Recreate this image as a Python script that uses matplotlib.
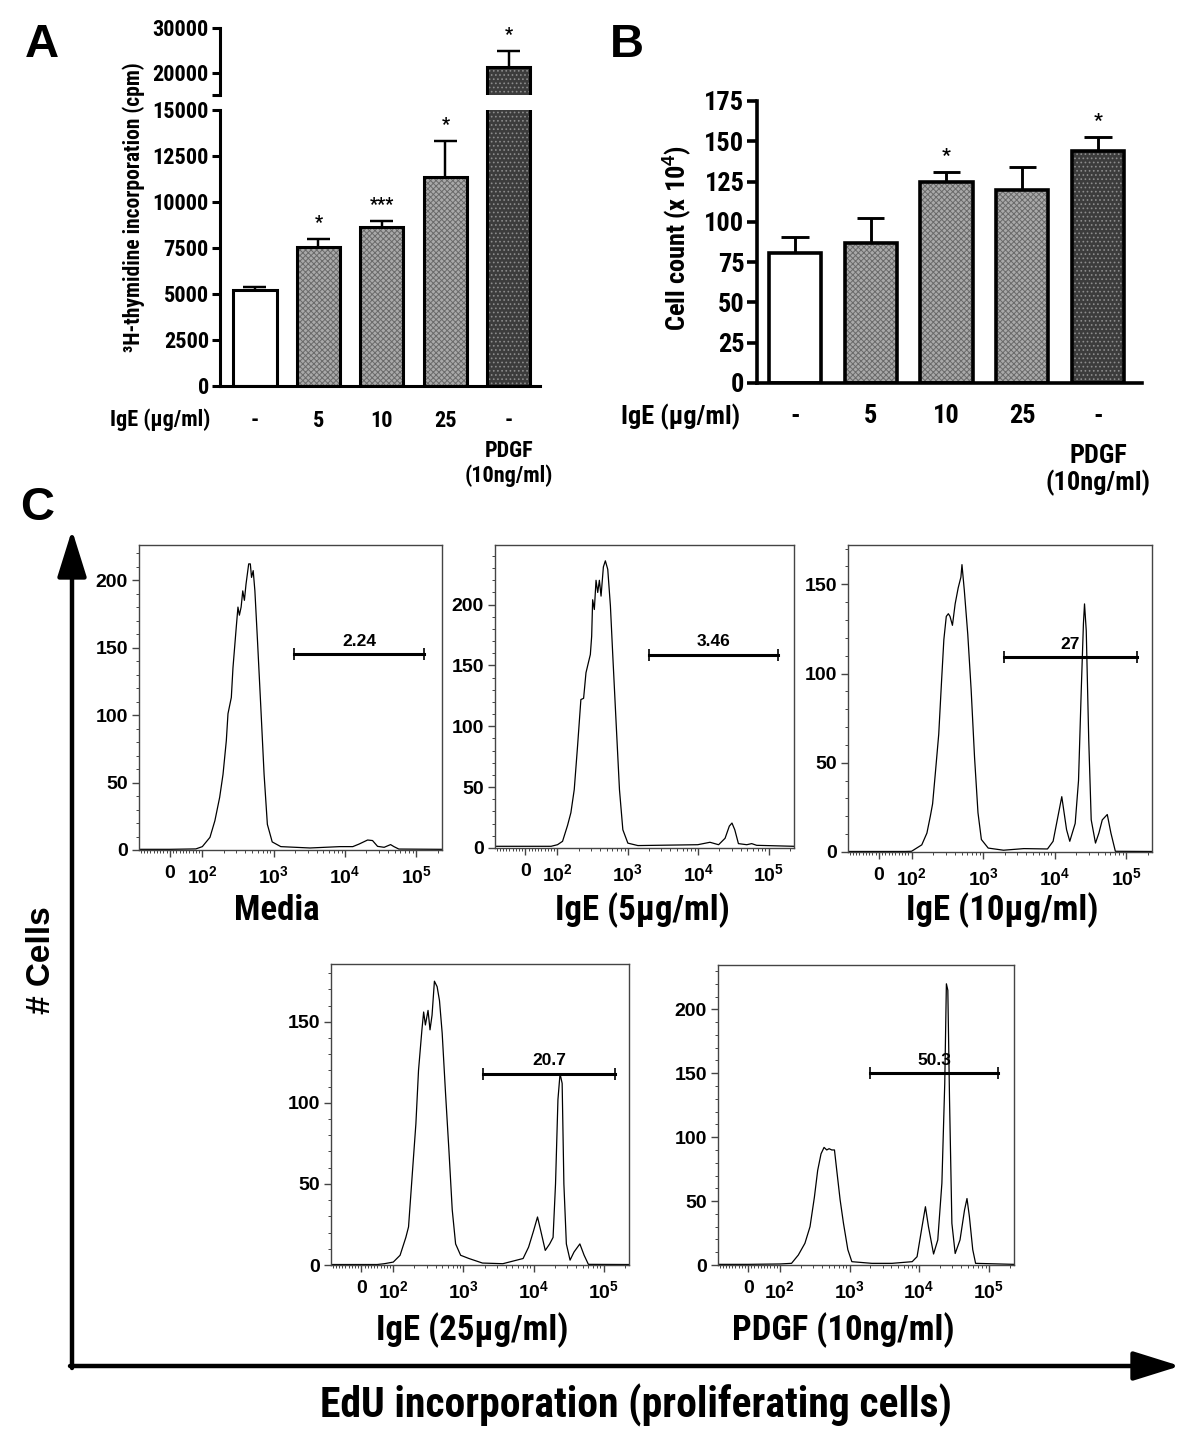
import numpy as np
import matplotlib
matplotlib.use('Agg')
import matplotlib.pyplot as plt
from matplotlib.patches import FancyArrowPatch
from matplotlib.ticker import MultipleLocator, FixedLocator

plt.rcParams['font.family'] = ['Liberation Sans', 'DejaVu Sans']
plt.rcParams['mathtext.fontset'] = 'custom'
plt.rcParams['mathtext.rm'] = 'Liberation Sans:bold'
plt.rcParams['mathtext.bf'] = 'Liberation Sans:bold'
plt.rcParams['hatch.linewidth'] = 0.7

NARROW = ['Roboto Condensed', 'Liberation Sans Narrow', 'Liberation Sans']

# --- panel A / B data ---
groups = ['-', '5', '10', '25', '-']
thymidine = [5200, 7550, 8620, 11340, 21290]
thymidine_err = [200, 450, 330, 1970, 3640]
thymidine_sig = ['', '*', '***', '*', '*']
cell_count = [80.4, 86.7, 124.6, 119.8, 144.0]
cell_count_err = [10, 16, 6.2, 14.2, 8.7]
cell_sig = ['', '', '*', '', '*']

BAR_FACE = ['white', '#a9a9a9', '#a9a9a9', '#a9a9a9', '#3c3c3c']
BAR_HATCH = [None, 'xxxxxx', 'xxxxxx', 'xxxxxx', '....']
BAR_HATCH_COLOR = ['white', '#6a6a6a', '#6a6a6a', '#6a6a6a', '#8c8c8c']

# --- panel C histograms (EdU intensity, cell count) ---
media_x = [-95, 0, 80, 100, 128, 150, 175, 195, 217, 229, 255, 269, 299, 316, 331, 350, 369, 389, 410, 447,
           471, 490, 517, 546, 594, 661, 735, 817, 955, 1260, 3240, 8500, 12900, 15800, 20800, 24400, 28700,
           35500, 43700, 48700, 57000, 230000]
media_y = [0.5, 0.5, 0.8, 2.5, 9.4, 21.7, 39, 56, 81, 101, 113, 135, 165, 180, 174, 180, 192, 185, 197, 212,
           212, 202, 207, 192, 155, 106, 56, 19, 6, 2.5, 1.5, 2.5, 2.5, 4.4, 7.4, 7, 2.7, 2, 4, 2.5, 0.7, 0.5]

ige5_x = [-95, 0, 80, 100, 118, 139, 155, 173, 193, 215, 235, 254, 274, 293, 306, 316, 334, 353, 373, 394,
          416, 449, 479, 518, 565, 611, 681, 760, 849, 1000, 1390, 9840, 14700, 19500, 24100, 27700, 30200,
          33100, 37300, 49000, 57600, 67800, 230000]
ige5_y = [1.4, 1.4, 1.4, 2.7, 5.5, 18.6, 29, 48, 84, 122, 123, 144, 152, 159, 174, 204, 196, 220, 210, 220,
          207, 231, 236, 229, 199, 158, 103, 48, 15, 4, 2, 2.7, 4.7, 2.7, 8, 18, 20.5, 15, 3.6, 2.7, 3.6, 2.2, 1.4]

ige10_x = [-95, 0, 80, 100, 139, 164, 183, 197, 215, 240, 263, 283, 306, 327, 345, 373, 407, 449, 490, 507,
           547, 611, 681, 760, 849, 947, 1180, 1930, 3720, 7950, 9530, 10900, 12600, 14700, 16300, 19400,
           21600, 23600, 25300, 26200, 27700, 30000, 32500, 37300, 41600, 46400, 54500, 61300, 70700, 230000]
ige10_y = [0.3, 0.3, 0.3, 0.4, 4, 10.6, 20, 27, 44, 66, 96, 119, 132, 133.5, 132, 127, 139, 148, 154, 161,
           146.5, 122, 91, 53, 22, 7, 2.2, 1, 1.9, 1.7, 6, 18, 31, 12.5, 6, 16, 40, 91, 128, 139, 124, 63, 18,
           5, 10.6, 18, 21, 10.6, 0.4, 0.3]

ige25_x = [-95, 0, 50, 72, 100, 125, 151, 165, 188, 210, 229, 256, 271, 287, 313, 334, 357, 386, 422, 456,
           498, 556, 621, 693, 774, 913, 1200, 1870, 3650, 7100, 8500, 10000, 11400, 12700, 14700, 17000,
           19000, 20600, 22300, 23900, 25600, 27100, 29400, 33200, 37800, 45800, 52700, 60600, 230000]
ige25_y = [0.3, 0.3, 0.3, 0.8, 1.8, 6, 17, 23.5, 58, 87, 120, 145, 156, 148, 157, 145, 154, 175, 171.6, 163,
           143, 106, 71, 34, 13, 6, 4, 1.2, 0.8, 4, 11, 21, 29.6, 21, 9, 13, 17, 50, 102, 118, 112, 50, 13, 3,
           8, 13, 6, 0.4, 0.3]

pdgf_x = [-95, 0, 100, 147, 184, 229, 271, 313, 349, 390, 431, 471, 509, 556, 608, 656, 733, 819, 946, 1080,
          2100, 4070, 7940, 9330, 11000, 12300, 13600, 16100, 18500, 21200, 23300, 24600, 25800, 27300, 29500,
          32900, 38600, 44800, 48600, 52600, 58800, 64600, 230000]
pdgf_y = [0.5, 0.5, 0.8, 1.3, 7.8, 17, 30, 53, 74, 87, 92, 90, 91, 90, 90, 74, 51, 32.6, 12, 2.6,
          1.3, 1.3, 2.6, 6.5, 30, 45.6, 30, 8.6, 19.6, 64, 142, 220, 215, 129, 32.6, 9, 19.6, 43, 52, 38,
          12, 1.3, 0.5]

hist_titles = ['Media', 'IgE (5\u03bcg/ml)', 'IgE (10\u03bcg/ml)', 'IgE (25\u03bcg/ml)', 'PDGF (10ng/ml)']
gate_pct = ['2.24', '3.46', '27', '20.7', '50.3']
gate_lo = [1930, 1970, 1950, 1920, 1990]
gate_hi = [130000, 136000, 142000, 143000, 135000]
gate_y = [145, 159, 109, 118, 150]

W, H = 1200, 1448
fig = plt.figure(figsize=(W / 100, H / 100), dpi=100)


def rect(x0, y0, x1, y1):
    return [x0 / W, 1 - y1 / H, (x1 - x0) / W, (y1 - y0) / H]


def fpos(x, y):
    return (x / W, 1 - y / H)


def style_labels(labels, size):
    for lb in labels:
        lb.set_fontfamily(NARROW)
        lb.set_fontweight('bold')
        lb.set_fontsize(size)


def draw_bars(ax, vals, errs, sig, width, lw, star_size):
    pos = np.arange(len(vals))
    bars = ax.bar(pos, vals, width, color=BAR_FACE, edgecolor=BAR_HATCH_COLOR, linewidth=0)
    for b, h in zip(bars, BAR_HATCH):
        if h:
            b.set_hatch(h)
    ax.bar(pos, vals, width, fill=False, edgecolor='black', linewidth=lw)
    tops = np.array(vals) + np.array(errs)
    ax.vlines(pos, vals, tops, color='black', lw=lw * 0.8)
    ax.hlines(tops, pos - 0.18, pos + 0.18, color='black', lw=lw * 0.8)
    for p, t, s in zip(pos, tops, sig):
        if s:
            ax.annotate(s, (p, t), xytext=(0, 5), textcoords='offset points', ha='center', va='bottom',
                        fontsize=star_size, fontweight='bold', family=NARROW)


# ---------------- panel A (broken axis) ----------------
axA_lo = fig.add_axes(rect(220, 110, 540, 386))
axA_hi = fig.add_axes(rect(220, 28, 540, 95))
for ax in (axA_lo, axA_hi):
    draw_bars(ax, thymidine, thymidine_err, thymidine_sig, 0.68, 2.2, 13)
    ax.set_xlim(-0.55, 4.49)
    ax.spines[['top', 'right']].set_visible(False)
    ax.spines['left'].set_linewidth(2.2)
    ax.tick_params(axis='y', width=2.2, length=6, pad=2)
axA_lo.set_ylim(0, 15000)
axA_lo.set_yticks(np.arange(0, 15001, 2500))
axA_hi.set_ylim(15000, 30000)
axA_hi.set_yticks([15000, 20000, 30000])
axA_hi.set_yticklabels(['', '20000', '30000'])
axA_hi.spines['bottom'].set_visible(False)
axA_hi.set_xticks([])
axA_lo.spines['bottom'].set_linewidth(2.2)
axA_lo.set_xticks(np.arange(5))
axA_lo.set_xticklabels(groups)
axA_lo.tick_params(axis='x', length=0, pad=17)
for ax in (axA_lo, axA_hi):
    style_labels(ax.get_yticklabels(), 16)
style_labels(axA_lo.get_xticklabels(), 16)
axA_lo.annotate('PDGF\n(10ng/ml)', (4, 0), xycoords=('data', 'axes fraction'), xytext=(0, -39),
                textcoords='offset points', ha='center', va='top', fontsize=16, fontweight='bold',
                family=NARROW, linespacing=1.15)
fig.text(*fpos(160, 420), 'IgE (\u03bcg/ml)', ha='center', va='center', fontsize=16,
         fontweight='bold', family=NARROW)
fig.text(*fpos(134, 207), '\u00b3H-thymidine incorporation (cpm)', rotation=90, ha='center',
         va='center', fontsize=15.5, fontweight='bold', family=NARROW)
fig.text(*fpos(42, 45), 'A', ha='center', va='center', fontsize=34, fontweight='bold')

# ---------------- panel B ----------------
axB = fig.add_axes(rect(757, 101, 1142, 383))
draw_bars(axB, cell_count, cell_count_err, cell_sig, 0.69, 2.6, 14)
axB.set_xlim(-0.5, 4.58)
axB.set_ylim(0, 175)
axB.set_yticks(np.arange(0, 176, 25))
axB.spines[['top', 'right']].set_visible(False)
axB.spines[['left', 'bottom']].set_linewidth(2.6)
axB.tick_params(axis='y', width=2.6, length=7, pad=2)
axB.set_xticks(np.arange(5))
axB.set_xticklabels(groups)
axB.tick_params(axis='x', length=0, pad=15)
style_labels(axB.get_yticklabels(), 19)
style_labels(axB.get_xticklabels(), 19)
axB.annotate('PDGF\n(10ng/ml)', (4, 0), xycoords=('data', 'axes fraction'), xytext=(0, -44),
             textcoords='offset points', ha='center', va='top', fontsize=19, fontweight='bold',
             family=NARROW, linespacing=1.1)
fig.text(*fpos(681, 417), 'IgE (\u03bcg/ml)', ha='center', va='center', fontsize=19,
         fontweight='bold', family=NARROW)
fig.text(*fpos(677, 238), 'Cell count (x 10$^{4}$)', rotation=90, ha='center', va='center',
         fontsize=19, fontweight='bold', family=NARROW)
fig.text(*fpos(627, 45), 'B', ha='center', va='center', fontsize=34, fontweight='bold')

# ---------------- panel C ----------------
minor_x = list(np.arange(-90, 100, 10)) + [k * 10.0 ** d for d in range(2, 6) for k in range(2, 10)]
hist_data = [(media_x, media_y), (ige5_x, ige5_y), (ige10_x, ige10_y), (ige25_x, ige25_y), (pdgf_x, pdgf_y)]
hist_rects = [(139, 545, 442, 850), (495, 545, 794, 848), (848, 545, 1152, 852),
              (331, 964, 629, 1265), (718, 965, 1014, 1265)]
hist_ymax = [226, 249, 172, 185.6, 234.7]
hist_yticks = [[0, 50, 100, 150, 200], [0, 50, 100, 150, 200], [0, 50, 100, 150],
               [0, 50, 100, 150], [0, 50, 100, 150, 200]]
title_pos = [(277, 910), (642, 910), (1002, 910), (472, 1330), (843, 1330)]

for i, (xs, ys) in enumerate(hist_data):
    ax = fig.add_axes(rect(*hist_rects[i]))
    ax.set_xscale('symlog', linthresh=100, linscale=0.41)
    ax.plot(xs, ys, color='black', lw=0.9)
    ax.plot([gate_lo[i], gate_hi[i]], [gate_y[i], gate_y[i]], color='black', lw=2.2)
    ax.plot([gate_lo[i], gate_hi[i]], [gate_y[i], gate_y[i]], ls='none', marker='|', ms=9, mew=1.2,
            color='black')
    ax.annotate(gate_pct[i], (np.sqrt(gate_lo[i] * gate_hi[i]), gate_y[i]), xytext=(0, 4),
                textcoords='offset points', ha='center', va='bottom', fontsize=12.5, fontweight='bold')
    ax.set_xlim(-95, 2.3e5)
    ax.set_ylim(0, hist_ymax[i])
    ax.set_xticks([0, 1e2, 1e3, 1e4, 1e5])
    ax.set_xticklabels(['0', '$10^{2}$', '$10^{3}$', '$10^{4}$', '$10^{5}$'])
    ax.xaxis.set_minor_locator(FixedLocator(minor_x))
    ax.set_yticks(hist_yticks[i])
    ax.yaxis.set_minor_locator(MultipleLocator(10))
    for s in ax.spines.values():
        s.set_color('#444444')
        s.set_linewidth(1.0)
    ax.tick_params(which='major', length=5, width=1, color='#444444', labelsize=14, pad=3)
    ax.tick_params(axis='x', which='major', pad=6)
    ax.tick_params(which='minor', length=2.5, width=0.7, color='#444444')
    for lb in ax.get_xticklabels() + ax.get_yticklabels():
        lb.set_fontweight('bold')
    fig.text(*fpos(*title_pos[i]), hist_titles[i], ha='center', va='center', fontsize=25,
             fontweight='bold', family=NARROW)

fig.add_artist(FancyArrowPatch(fpos(72, 1368), fpos(72, 530), transform=fig.transFigure,
                               arrowstyle='-|>,head_length=1.6,head_width=0.5', mutation_scale=18,
                               lw=3.2, color='black', shrinkA=0, shrinkB=0))
fig.add_artist(FancyArrowPatch(fpos(70, 1366), fpos(1180, 1366), transform=fig.transFigure,
                               arrowstyle='-|>,head_length=1.6,head_width=0.5', mutation_scale=18,
                               lw=3.2, color='black', shrinkA=0, shrinkB=0))
fig.text(*fpos(42, 960), '# Cells', rotation=90, ha='center', va='center', fontsize=24, fontweight='bold')
fig.text(*fpos(636, 1405), 'EdU incorporation (proliferating cells)', ha='center', va='center',
         fontsize=30, fontweight='bold', family=NARROW)
fig.text(*fpos(37, 508), 'C', ha='center', va='center', fontsize=34, fontweight='bold')

fig.savefig('out.png', dpi=100)
